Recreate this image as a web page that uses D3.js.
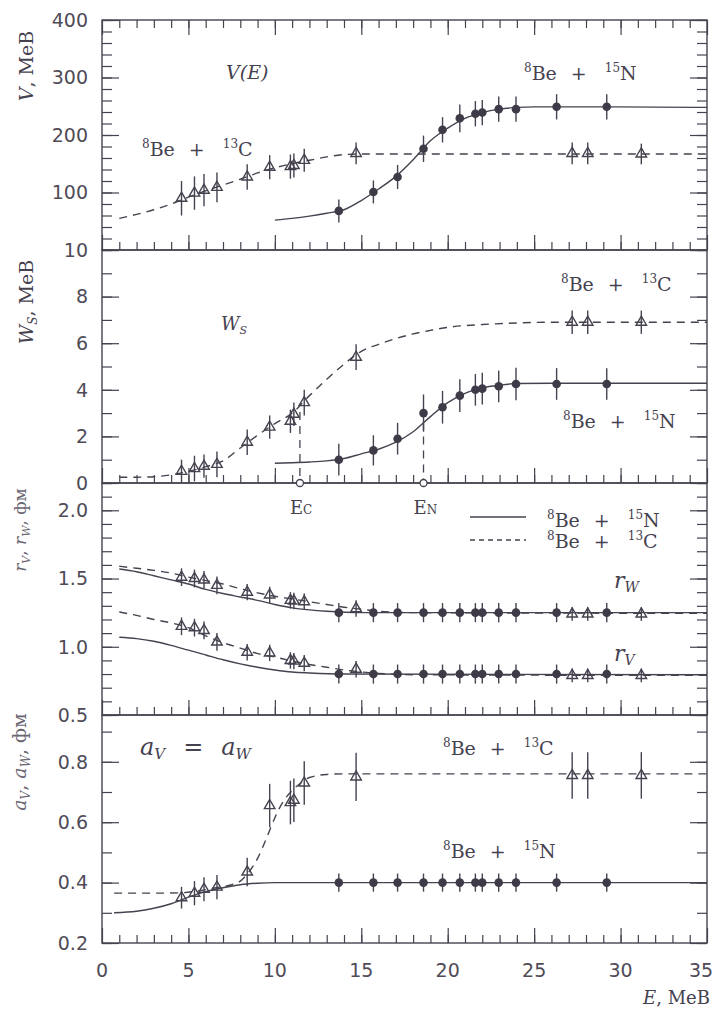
<!DOCTYPE html>
<html>
<head>
<meta charset="utf-8">
<script src="https://cdn.jsdelivr.net/npm/d3@7"></script>
<style>
  body { margin: 0; background: #fff; }
  .tl { font-family: "DejaVu Sans", sans-serif; font-size: 19px; fill: #4f4b57; }
  .lbl { font-family: "DejaVu Serif", serif; font-size: 19px; fill: #45414f; }
</style>
</head>
<body>
<script>
//energies of the measured points
var E13 = [4.6, 5.35, 5.9, 6.65, 8.4, 9.7, 10.9, 11.1, 11.7, 14.7, 27.2, 28.1, 31.2];
var E15 = [13.7, 15.7, 17.1, 18.6, 19.7, 20.7, 21.6, 22.0, 22.95, 23.95, 26.3, 29.2];

//V panel
var V13 = [90, 99, 104, 109, 127, 144, 145, 147, 156, 168, 168, 168, 167];
var V13err = [30, 29, 28, 26, 22, 21, 21, 21, 20, 19, 19, 19, 18];
var V15 = [68, 101, 127, 176, 209, 229, 237, 239, 245, 245, 249, 249];
var V15err = [20, 20, 21, 23, 22, 24, 22, 22, 22, 22, 22, 22];
var V13curve = [[1,55],[2,62],[3,70],[4,80],[5,92],[6,103],[7,113],[8,123],[9,134],[10,143],[11,150],[12,156],[13,162],[14,166],[15,167],[17,167],[35,167]];
var V15curve = [[10,52],[11,55],[12,59],[13,64],[14,70],[15,86],[16,106],[17,128],[18,157],[19,190],[20,212],[21,229],[22,239],[23,245],[24,248],[25,249],[27,249],[35,248]];

//W_S panel
var W13 = [0.5, 0.62, 0.72, 0.8, 1.75, 2.4, 2.65, 2.95, 3.45, 5.4, 6.9, 6.9, 6.9];
var W13err = [0.5, 0.55, 0.5, 0.55, 0.55, 0.5, 0.5, 0.5, 0.55, 0.55, 0.5, 0.5, 0.5];
var W15 = [1.0, 1.4, 1.9, 3.0, 3.25, 3.75, 4.0, 4.05, 4.15, 4.25, 4.25, 4.25];
var W15err = [0.68, 0.65, 0.68, 0.8, 0.7, 0.7, 0.68, 0.68, 0.68, 0.7, 0.68, 0.68];
var W13curve = [[1,0.25],[2,0.25],[3,0.27],[4,0.35],[5,0.5],[6,0.7],[7,0.95],[8,1.5],[9,2.05],[10,2.55],[11,3.0],[12,3.75],[13,4.45],[14,5.1],[15,5.65],[16,5.95],[17,6.2],[18,6.4],[19,6.55],[20,6.68],[22,6.8],[24,6.87],[26,6.9],[35,6.9]];
var W15curve = [[10,0.85],[11,0.87],[12,0.9],[13,0.95],[14,1.05],[15,1.25],[16,1.45],[17,1.75],[18,2.2],[19,2.85],[20,3.45],[21,3.85],[22,4.08],[23,4.2],[24,4.27],[26,4.28],[35,4.28]];
var eMarks = [{E: 11.45, top: 3.05, sub: 'C'}, {E: 18.6, top: 2.6, sub: 'N'}];

//radius panel
var rW13 = [1.51, 1.50, 1.49, 1.45, 1.40, 1.38, 1.34, 1.335, 1.33, 1.28, 1.24, 1.24, 1.24];
var rV13 = [1.15, 1.14, 1.12, 1.035, 0.96, 0.955, 0.90, 0.895, 0.88, 0.835, 0.79, 0.79, 0.79];
var r13err = [0.065, 0.065, 0.065, 0.065, 0.06, 0.06, 0.06, 0.06, 0.06, 0.06, 0.05, 0.05, 0.05];
var rW15 = [1.25, 1.25, 1.25, 1.25, 1.25, 1.25, 1.25, 1.25, 1.25, 1.25, 1.25, 1.25];
var rV15 = [0.80, 0.80, 0.80, 0.80, 0.80, 0.80, 0.80, 0.80, 0.80, 0.80, 0.80, 0.80];
var r15err = [0.07, 0.07, 0.07, 0.07, 0.07, 0.07, 0.07, 0.07, 0.07, 0.07, 0.07, 0.07];
var rW15curve = [[1,1.57],[2,1.55],[3,1.52],[4,1.49],[5,1.46],[6,1.42],[7,1.39],[8,1.365],[9,1.34],[10,1.31],[11,1.285],[12,1.27],[13,1.26],[15,1.25],[35,1.25]];
var rW13curve = [[1,1.59],[2,1.575],[3,1.56],[4,1.54],[5,1.51],[6,1.485],[7,1.46],[8,1.425],[9,1.395],[10,1.37],[11,1.35],[12,1.33],[13,1.31],[14,1.29],[15,1.275],[16,1.26],[18,1.25],[35,1.245]];
var rV15curve = [[1,1.07],[2,1.06],[3,1.04],[4,1.01],[5,0.975],[6,0.94],[7,0.905],[8,0.875],[9,0.85],[10,0.83],[11,0.815],[12,0.808],[14,0.80],[35,0.795]];
var rV13curve = [[1,1.255],[2,1.23],[3,1.20],[4,1.175],[5,1.14],[6,1.08],[7,1.03],[8,0.99],[9,0.95],[10,0.925],[11,0.895],[12,0.87],[13,0.85],[14,0.83],[15,0.815],[16,0.805],[18,0.795],[35,0.79]];

//diffuseness panel
var a13 = [0.35, 0.365, 0.378, 0.385, 0.435, 0.655, 0.665, 0.673, 0.73, 0.75, 0.755, 0.755, 0.755];
var a13err = [0.036, 0.04, 0.04, 0.04, 0.047, 0.072, 0.072, 0.072, 0.072, 0.08, 0.077, 0.077, 0.077];
var a15 = [0.40, 0.40, 0.40, 0.40, 0.40, 0.40, 0.40, 0.40, 0.40, 0.40, 0.40, 0.40];
var a15err = [0.03, 0.03, 0.03, 0.03, 0.03, 0.03, 0.03, 0.03, 0.03, 0.03, 0.03, 0.03];
var a13curve = [[0.7,0.365],[3,0.365],[4.5,0.366],[5.5,0.372],[6.5,0.382],[7.5,0.393],[8,0.405],[8.5,0.435],[9,0.48],[9.5,0.545],[10,0.615],[10.5,0.67],[11,0.705],[11.5,0.73],[12,0.748],[13,0.758],[14,0.76],[35,0.76]];
var a15curve = [[0.7,0.30],[2,0.305],[3,0.315],[4,0.33],[5,0.352],[6,0.37],[7,0.383],[8,0.393],[9,0.398],[10,0.40],[35,0.40]];

//tick labels
var xLabels = [0, 5, 10, 15, 20, 25, 30, 35];
var vLabels = [100, 200, 300, 400];
var wLabels = [0, 2, 4, 6, 8, 10];
var rLabels = [0.5, 1.0, 1.5, 2.0];
var aLabels = [0.2, 0.4, 0.6, 0.8];

var ink = '#46424f';
var W = 718, H = 1010;
var left = 102, right = 707;

var svg = d3.select('body').append('svg')
            .attr('width', W)
            .attr('height', H);

var x = d3.scaleLinear().domain([0, 35]).range([left, right]);

var panels = [
  {domain: [0, 400], top: 20, bottom: 250, minor: d3.range(0, 401, 20), major: d3.range(0, 401, 100), labels: vLabels, fmt: d3.format('d'),
   series: [
     {E: E13, v: V13, e: V13err, kind: 'tri'},
     {E: E15, v: V15, e: V15err, kind: 'dot'}],
   curves: [{pts: V13curve, dash: true}, {pts: V15curve, dash: false}]},
  {domain: [0, 10], top: 250, bottom: 483, minor: d3.range(0, 11, 1), major: d3.range(0, 11, 2), labels: wLabels, fmt: d3.format('d'),
   series: [
     {E: E13, v: W13, e: W13err, kind: 'tri'},
     {E: E15, v: W15, e: W15err, kind: 'dot'}],
   curves: [{pts: W13curve, dash: true}, {pts: W15curve, dash: false}]},
  {domain: [0.5, 2.2], top: 483, bottom: 715, minor: d3.range(5, 23).map(d => d / 10), major: [0.5, 1.0, 1.5, 2.0], labels: rLabels, fmt: d3.format('.1f'),
   series: [
     {E: E13, v: rW13, e: r13err, kind: 'tri'},
     {E: E13, v: rV13, e: r13err, kind: 'tri'},
     {E: E15, v: rW15, e: r15err, kind: 'dot'},
     {E: E15, v: rV15, e: r15err, kind: 'dot'}],
   curves: [{pts: rW13curve, dash: true}, {pts: rW15curve, dash: false}, {pts: rV13curve, dash: true}, {pts: rV15curve, dash: false}]},
  {domain: [0.2, 0.955], top: 715, bottom: 943, minor: d3.range(2, 10).map(d => d / 10), major: [0.2, 0.4, 0.6, 0.8], labels: aLabels, fmt: d3.format('.1f'),
   series: [
     {E: E13, v: a13, e: a13err, kind: 'tri'},
     {E: E15, v: a15, e: a15err, kind: 'dot'}],
   curves: [{pts: a13curve, dash: true}, {pts: a15curve, dash: false}]}
];

//draw inward ticks with a d3 axis
function ticks(g, axisFn, scale, values, size, tr) {
  g.append('g')
   .attr('transform', tr)
   .call(axisFn(scale).tickValues(values).tickSize(-size).tickFormat(''))
   .call(a => a.select('.domain').remove())
   .selectAll('line')
   .attr('stroke', ink)
   .attr('stroke-width', 1.2);
}

var triangle = d3.symbol().type(d3.symbolTriangle).size(48);

panels.forEach(function (p, i) {
  p.y = d3.scaleLinear().domain(p.domain).range([p.bottom, p.top]);
  var g = svg.append('g');

  //curves
  var line = d3.line()
               .x(d => x(d[0]))
               .y(d => p.y(d[1]))
               .curve(d3.curveMonotoneX);
  p.curves.forEach(function (c) {
    g.append('path')
     .attr('d', line(c.pts))
     .attr('fill', 'none')
     .attr('stroke', ink)
     .attr('stroke-width', 1.4)
     .attr('stroke-dasharray', c.dash ? '8,6' : null);
  });

  //points with error bars
  p.series.forEach(function (s) {
    var pts = s.E.map((e, k) => ({E: e, v: s.v[k], err: s.e[k]}));
    g.append('g').selectAll('line')
     .data(pts).enter().append('line')
     .attr('x1', d => x(d.E)).attr('x2', d => x(d.E))
     .attr('y1', d => p.y(d.v - d.err)).attr('y2', d => p.y(d.v + d.err))
     .attr('stroke', ink).attr('stroke-width', 1.4);
    if (s.kind == 'dot') {
      g.append('g').selectAll('circle')
       .data(pts).enter().append('circle')
       .attr('cx', d => x(d.E)).attr('cy', d => p.y(d.v))
       .attr('r', 4.3)
       .attr('fill', '#3e3a48');
    } else {
      g.append('g').selectAll('path')
       .data(pts).enter().append('path')
       .attr('d', triangle)
       .attr('transform', d => 'translate(' + x(d.E) + ',' + p.y(d.v) + ')')
       .attr('fill', 'none')
       .attr('stroke', ink)
       .attr('stroke-width', 1.4);
    }
  });

  //frame
  g.append('rect')
   .attr('x', left).attr('y', p.top)
   .attr('width', right - left).attr('height', p.bottom - p.top)
   .attr('fill', 'none').attr('stroke', ink).attr('stroke-width', 1.4);

  //x ticks
  ticks(g, d3.axisBottom, x, d3.range(1, 35), 8, 'translate(0,' + p.bottom + ')');
  ticks(g, d3.axisBottom, x, xLabels, 15, 'translate(0,' + p.bottom + ')');
  if (i == 0) {
    ticks(g, d3.axisTop, x, d3.range(1, 35), 8, 'translate(0,' + p.top + ')');
    ticks(g, d3.axisTop, x, xLabels, 15, 'translate(0,' + p.top + ')');
  }
  //y ticks
  ticks(g, d3.axisLeft, p.y, p.minor, 10, 'translate(' + left + ',0)');
  ticks(g, d3.axisLeft, p.y, p.major, 17, 'translate(' + left + ',0)');
  ticks(g, d3.axisRight, p.y, p.minor, 10, 'translate(' + right + ',0)');
  ticks(g, d3.axisRight, p.y, p.major, 17, 'translate(' + right + ',0)');

  //y labels
  g.append('g').selectAll('text')
   .data(p.labels).enter().append('text')
   .attr('class', 'tl')
   .attr('x', 88)
   .attr('y', d => p.y(d))
   .attr('dy', '0.36em')
   .attr('text-anchor', 'end')
   .text(p.fmt);
});

//x labels (last one kept inside the page)
svg.append('g').selectAll('text')
   .data(xLabels).enter().append('text')
   .attr('class', 'tl')
   .attr('x', d => Math.min(x(d), W - 17))
   .attr('y', 977)
   .attr('text-anchor', 'middle')
   .text(d => d);

var xt = svg.append('text').attr('class', 'lbl').attr('x', 710).attr('y', 1004).attr('text-anchor', 'end').style('font-size', '18px');
xt.append('tspan').style('font-style', 'italic').text('E');
xt.append('tspan').text(', MeB');

//E_C and E_N markers
var pw = panels[1];
eMarks.forEach(function (m) {
  svg.append('line')
     .attr('x1', x(m.E)).attr('x2', x(m.E))
     .attr('y1', pw.y(m.top)).attr('y2', pw.y(0))
     .attr('stroke', ink).attr('stroke-width', 1.3)
     .attr('stroke-dasharray', '8,6');
  svg.append('circle')
     .attr('cx', x(m.E)).attr('cy', pw.y(0))
     .attr('r', 3.5)
     .attr('fill', '#fff').attr('stroke', ink).attr('stroke-width', 1.3);
  var t = svg.append('text').attr('class', 'lbl')
             .attr('x', x(m.E) - 10).attr('y', pw.bottom + 31)
             .style('font-size', '18px');
  t.append('tspan').text('E');
  t.append('tspan').style('font-size', '12px').text(m.sub);
});

//reaction labels like 8Be + 13C
function reaction(px, py, mass, sym) {
  var t = svg.append('text').attr('class', 'lbl').attr('x', px).attr('y', py);
  t.append('tspan').style('font-size', '12px').attr('dy', -8).text('8');
  t.append('tspan').attr('dy', 8).text('Be');
  t.append('tspan').attr('dx', 14).text('+');
  t.append('tspan').attr('dx', 18).style('font-size', '12px').attr('dy', -8).text(mass);
  t.append('tspan').attr('dy', 8).text(sym);
}
reaction(142, 156, '13', 'C');
reaction(524, 80, '15', 'N');
reaction(561, 291, '13', 'C');
reaction(563, 428, '15', 'N');
reaction(443, 755, '13', 'C');
reaction(443, 858, '15', 'N');
reaction(547, 527, '15', 'N');
reaction(547, 548, '13', 'C');

//legend lines
svg.append('line').attr('x1', 470).attr('x2', 526).attr('y1', 517).attr('y2', 517)
   .attr('stroke', ink).attr('stroke-width', 1.3);
svg.append('line').attr('x1', 470).attr('x2', 526).attr('y1', 540).attr('y2', 540)
   .attr('stroke', ink).attr('stroke-width', 1.3).attr('stroke-dasharray', '5,4');

//panel names
function italic(px, py, main, sub, size) {
  var t = svg.append('text').attr('class', 'lbl').attr('x', px).attr('y', py)
             .style('font-style', 'italic').style('font-size', size + 'px');
  t.append('tspan').text(main);
  if (sub) t.append('tspan').attr('dy', 4).style('font-size', Math.round(size * 0.62) + 'px').text(sub);
  return t;
}
italic(226, 79, 'V(E)', null, 19);
italic(221, 330, 'W', 'S', 18);
italic(614, 588, 'r', 'W', 22);
italic(614, 661, 'r', 'V', 22);
var av = italic(140, 755, 'a', 'V', 24);
av.append('tspan').attr('dy', -4).attr('dx', 18).style('font-style', 'normal').text('=');
av.append('tspan').attr('dx', 18).text('a');
av.append('tspan').attr('dy', 4).style('font-size', '15px').text('W');

//y axis titles
function yTitle(cx, cy, parts, size, color) {
  var t = svg.append('text').attr('class', 'lbl')
             .attr('transform', 'translate(' + cx + ',' + cy + ') rotate(-90)')
             .attr('text-anchor', 'middle')
             .style('font-size', size + 'px')
             .style('fill', color);
  parts.forEach(function (q) {
    var s = t.append('tspan').text(q[0]);
    if (q[1] == 'i') s.style('font-style', 'italic');
    if (q[1] == 's') s.style('font-style', 'italic').style('font-size', Math.round(size * 0.62) + 'px').attr('dy', 4);
    if (q[1] == 'u') s.attr('dy', -4);
  });
}
yTitle(33, 66, [['V', 'i'], [', MeB', '']], 19, '#45414f');
yTitle(33, 302, [['W', 'i'], ['S', 's'], [', MeB', 'u']], 19, '#45414f');
yTitle(26, 530, [['r', 'i'], ['V', 's'], [',  ', 'u'], ['r', 'i'], ['W', 's'], [',  фм', 'u']], 17, '#6a6672');
yTitle(26, 762, [['a', 'i'], ['V', 's'], [',  ', 'u'], ['a', 'i'], ['W', 's'], [',  фм', 'u']], 19, '#6a6672');
</script>
</body>
</html>
